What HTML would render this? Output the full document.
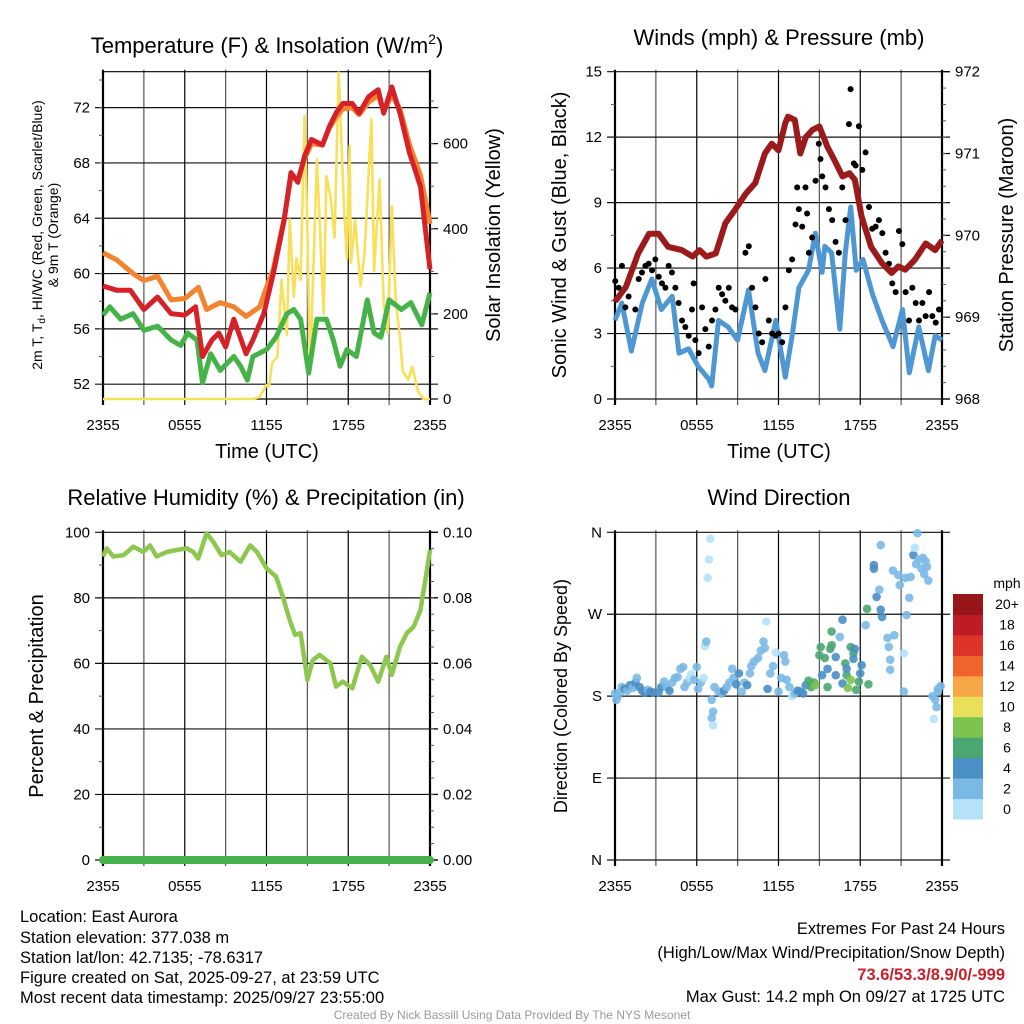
<!DOCTYPE html>
<html><head><meta charset="utf-8">
<style>
html,body{margin:0;padding:0;background:#fff}
svg{display:block;font-family:"Liberation Sans",Arial,sans-serif}
</style></head>
<body>
<svg id="c" width="1024" height="1024" viewBox="0 0 1024 1024" xmlns="http://www.w3.org/2000/svg">
<g id="footer" font-size="16.5" fill="#000">
<text x="20" y="922">Location: East Aurora</text>
<text x="20" y="943">Station elevation: 377.038 m</text>
<text x="20" y="963">Station lat/lon: 42.7135; -78.6317</text>
<text x="20" y="983">Figure created on Sat, 2025-09-27, at 23:59 UTC</text>
<text x="20" y="1003">Most recent data timestamp: 2025/09/27 23:55:00</text>
<text x="1005" y="934" text-anchor="end">Extremes For Past 24 Hours</text>
<text x="1005" y="958" text-anchor="end">(High/Low/Max Wind/Precipitation/Snow Depth)</text>
<text x="1005" y="980" text-anchor="end" fill="#c8202a" font-weight="bold">73.6/53.3/8.9/0/-999</text>
<text x="1005" y="1002" text-anchor="end">Max Gust: 14.2 mph On 09/27 at 1725 UTC</text>
<text x="512" y="1019" text-anchor="middle" font-size="12" fill="#999">Created By Nick Bassill Using Data Provided By The NYS Mesonet</text>
</g>
</svg>
<script>
// ---------- data (hours since 2355 UTC) ----------
const xTickLabels = ["2355","0555","1155","1755","2355"];
const redT_h = [0,1,2,3,4,5,6,6.8,7.3,8,8.5,9,9.6,10.5,11,11.8,12.5,13.3,13.8,14.3,14.8,15.3,16.1,16.6,17.1,17.6,18.3,18.8,19.5,20.2,20.6,21.2,21.8,22.5,23.3,24];
const redT_v = [59.1,58.8,58.8,57.4,58.3,57.1,57,57.6,54,55.2,55.7,54.7,56.7,54.2,55.2,57.1,60,63.9,67.3,66.6,68.5,69.7,69.3,70.6,71.6,72.3,72.3,71.6,72.8,73.3,71.6,73.5,71.6,68.7,66.3,60.3];
const orgT_h = [0,1,2.2,3,4,5,6,7,7.6,8.6,9.6,10.5,11.5,12,12.5,13.3,13.8,14.3,14.8,15.3,16.1,16.6,17.1,17.6,18.3,18.8,19.5,20.2,20.6,21.2,21.8,22.5,23.3,24];
const orgT_v = [61.5,61,60,59.5,59.8,58.1,58.2,59,57.4,57.9,57.6,56.9,57.6,59,60.3,64,67,66.8,68.3,69.4,69.3,70.5,71.3,71.9,72,71.5,72.4,72.9,71.7,72.9,71.9,69.3,67.1,63.6];
const grnT_h = [0,0.5,1.3,2.2,3,4,5,5.7,6.2,6.9,7.3,7.9,8.6,9.6,10.1,10.6,11,12,12.7,13.5,14,14.5,15.1,15.7,16.4,16.9,17.4,17.9,18.6,19.4,19.9,20.4,21,21.9,22.6,23.4,24];
const grnT_v = [57,57.6,56.7,57.1,55.9,56.2,55.2,54.8,55.7,55.2,52.1,54.2,53,54,53.3,52.3,54,54.5,55.4,57.1,57.4,56.7,52.8,56.7,56.7,55.2,53.3,54.5,54,58.1,55.7,55.4,58.1,57.4,57.9,56.3,58.6];
const sol_h = [0,11,11.5,12,12.2,12.4,12.8,13.1,13.5,13.7,14,14.2,14.5,14.8,15,15.2,15.7,16.2,16.4,16.7,17,17.3,17.7,17.9,18.1,18.2,18.5,18.9,19.2,19.7,19.9,20.3,20.6,20.9,21.2,21.5,21.8,22,22.4,22.7,23.1,23.5,24];
const sol_v = [0,0,5,33,30,84,100,280,150,422,240,330,280,665,400,68,563,200,524,475,380,767,440,330,595,320,420,265,343,657,300,516,225,155,453,225,145,65,45,76,20,0,0];
// winds & pressure
const pres_h = [0,0.8,1.7,2.5,3.2,3.9,4.9,5.7,6.2,6.7,7.4,8.1,8.8,9.6,10.3,11,11.5,12,12.5,12.7,13.2,13.6,14,14.5,15,15.6,16.1,16.7,17.2,17.6,18.1,18.8,19.6,20.3,20.8,21.3,22,22.8,23.5,24];
const pres_v = [969.19,969.37,969.78,970.02,970.02,969.86,969.82,969.74,969.82,969.74,969.78,970.15,970.31,970.51,970.64,971.0,971.12,971.04,971.37,971.45,971.41,971.0,971.2,971.29,971.33,971.08,970.92,970.72,970.76,970.68,970.23,969.86,969.66,969.54,969.62,969.58,969.7,969.9,969.82,969.94];
const wind_h = [0,0.5,1.2,2,2.7,3.4,4.2,4.7,5.4,6.1,6.9,7.1,7.6,8.3,9.0,9.8,10.5,11,11.8,12.5,13,13.5,14.2,14.7,15.2,15.4,15.9,16.5,16.9,17.3,17.7,18.2,18.9,19.6,20.4,21.1,21.6,22.3,23,23.5,24];
const wind_v = [3.6,4.4,2.2,4.4,5.5,4.1,4.7,2.1,2.3,1.5,0.9,0.6,3.6,3.3,2.7,5.0,2.1,1.3,3.6,1.0,2.9,5.1,5.9,7.6,5.8,7.0,6.7,3.2,6.7,8.8,5.9,6.4,4.8,3.6,2.4,4.1,1.2,3.3,1.3,2.9,2.7];
const gust_h = [0.02,0.27,0.51,0.76,1.0,1.49,1.74,1.98,2.23,2.47,2.72,2.96,3.21,3.45,3.7,3.94,4.18,4.43,4.67,4.92,5.16,5.41,5.65,5.77,5.9,6.14,6.39,6.63,6.88,7.12,7.37,7.61,7.86,8.1,8.35,8.59,8.84,9.57,9.82,10.06,10.31,10.55,10.8,11.04,11.29,11.53,11.78,12.02,12.27,12.51,12.76,13.0,13.25,13.37,13.49,13.74,13.98,14.1,14.23,14.47,14.72,14.96,15.08,15.21,15.45,15.7,15.94,16.19,16.43,16.68,16.92,17.17,17.29,17.53,17.66,17.9,18.15,18.39,18.64,18.88,19.13,19.37,19.62,19.86,20.11,20.35,20.6,20.84,21.09,21.33,21.58,21.82,22.07,22.31,22.56,22.8,23.05,23.29,23.54,23.78];
const gust_v = [5.4,5.1,6.1,4.2,4.7,4.1,5.5,5.8,6.1,6.2,5.9,6.4,5.6,5.3,5.1,6.1,5.8,5.1,4.4,3.6,3.3,2.9,4.1,5.3,2.7,2.1,4.2,3.2,2.4,3.6,4.1,5.1,4.8,4.5,5.1,4.2,4.1,6.7,7.0,5.1,4.2,3.0,2.6,5.5,3.6,3.0,2.9,3.0,2.6,4.2,5.9,6.4,8.0,9.7,8.7,7.9,9.7,8.5,6.7,7.4,10.0,11.7,11.0,10.2,9.7,8.7,8.2,7.2,6.7,9.7,8.2,12.6,14.2,10.8,10.7,12.5,10.5,11.3,8.8,7.8,7.9,8.2,7.6,6.7,6.2,5.3,4.9,7.7,7.1,4.9,3.6,5.1,4.4,3.6,4.4,3.8,4.9,3.8,3.5,4.1];
// RH & precip
const rh_h = [0,0.27,0.76,1.5,2.23,2.96,3.45,3.94,4.67,5.41,6.14,6.63,6.99,7.6,8.1,8.7,9.3,10.1,10.8,11.3,12.0,12.7,13.2,13.7,14.1,14.5,15.0,15.4,15.9,16.7,17.1,17.6,18.3,19.0,19.6,20.2,20.8,21.2,21.8,22.3,22.8,23.3,23.7,24];
const rh_v = [92.6,95.1,92.6,93,95.6,94,96,92.6,94,94.6,95.1,94,92,99.7,97,93,94,91,96,94,89,86.5,80.4,73.2,68.7,69.2,54.9,61,62.6,60,52.9,54.4,52.4,62,59.5,54.4,62,56.5,65.1,69.2,71.2,76.3,86.5,94.6];
const precip_h = [0,24];
const precip_v = [0,0];
// wind direction (hour, degrees, speed mph)
const dir_h = [0,0.1,0.2,0.4,0.5,0.7,0.9,1.1,1.3,1.5,1.6,1.8,2.0,2.2,2.4,2.6,2.8,3.2,3.4,3.6,3.8,4.0,4.2,4.4,4.6,4.8,5.0,5.1,5.3,5.5,5.6,5.8,6.0,6.1,6.3,6.5,6.6,6.7,6.8,6.9,7.0,7.1,7.2,7.1,7.2,7.3,7.6,7.8,8.0,8.2,8.4,8.6,8.7,8.9,9.1,9.3,9.5,9.7,9.9,10.0,10.2,10.5,10.7,10.9,11.0,11.1,11.2,11.4,11.6,11.8,12.0,12.2,12.4,12.5,12.6,12.8,13.0,13.2,13.4,13.6,13.8,14.0,14.2,14.4,14.6,14.7,15.0,15.1,15.2,15.4,15.6,15.6,15.8,15.9,15.9,16.2,16.2,16.5,16.7,16.7,16.9,17.0,17.0,17.1,17.3,17.3,17.5,17.5,17.6,17.7,17.9,18.0,18.1,18.4,18.5,18.6,19.0,19.0,19.2,19.4,19.5,19.5,19.6,20.0,20.1,20.2,20.2,20.5,20.4,20.8,20.9,21.3,21.6,21.4,21.2,21.2,21.7,21.9,22.0,22.1,22.2,22.3,22.5,22.6,22.7,22.8,22.9,23.0,23.3,23.5,23.6,23.4,23.7,23.9,23.7];
const dir_v = [183,176,180,185,190,188,186,192,189,195,200,190,186,184,187,185,184,184,190,196,190,186,195,200,201,210,212,190,195,200,204,198,212,188,195,200,235,240,310,330,353,176,163,156,148,190,185,183,186,190,195,210,200,193,205,185,195,192,205,213,218,222,230,240,233,262,188,205,213,228,185,200,225,218,198,190,180,183,186,185,183,192,197,190,195,192,225,234,203,222,210,190,232,236,251,223,203,245,194,264,216,203,210,189,198,234,227,221,232,187,196,205,214,258,276,193,324,320,289,297,275,346,267,244,234,220,209,247,318,313,302,310,288,269,227,185,311,335,343,325,359,330,320,332,314,328,322,307,180,176,168,155,185,191,188];
const dir_s = [3,3,3,3,3,4,3,4,3,4,2,4,4,4,3,4,4,4,4,2,3,4,3,2,2,2,2,2,2,1,1,2,3,2,2,1,1,2,1,1,1,2,2,2,1,2,3,3,4,2,2,3,2,4,4,3,3,4,3,2,2,2,2,3,2,1,4,2,2,1,3,2,3,2,2,3,1,3,4,4,4,4,6,6,6,8,6,6,4,6,4,6,7,6,6,4,4,3,4,4,6,6,4,8,8,6,6,4,4,6,6,4,4,3,6,6,4,5,4,3,4,2,4,3,3,3,3,3,3,3,3,3,3,3,1,3,3,4,1,2,2,2,2,2,2,2,2,3,3,2,3,1,2,3,3,3,2];
const cbarLabels = ["0","2","4","6","8","10","12","14","16","18","20+"];
const cbarColors = ["#b5e2f8","#7ab9e5","#4a8fc6","#4aa772","#7cc24c","#e6e05a","#f6a646","#f0632b","#de3328","#bd1c24","#961619"];

// ---------- helpers ----------
const NS="http://www.w3.org/2000/svg";
const svg=document.getElementById('c');
function el(tag,attrs,parent,text){const e=document.createElementNS(NS,tag);for(const k in attrs)e.setAttribute(k,attrs[k]);if(text!==undefined)e.textContent=text;(parent||svg).appendChild(e);return e;}
function lin(d0,d1,r0,r1){return v=>r0+(v-d0)/(d1-d0)*(r1-r0);}
function pathFrom(hs,vs,sx,sy){let d="";for(let i=0;i<hs.length;i++)d+=(i?"L":"M")+sx(hs[i]).toFixed(1)+","+sy(vs[i]).toFixed(1);return d;}

function frame(g,x0,x1,y0,y1,sx,showX){
  for(let h=0;h<=24;h+=3){const x=sx(h);
    const l=el('line',{x1:x,x2:x,y1:y0-2,y2:y1+6,stroke:(h%6==0?'#000':'#555'),'stroke-width':(h==0||h==24)?2.2:1.2},g);
    
    
  }
  if(showX){xTickLabels.forEach((t,i)=>{const tx=el('text',{x:sx(i*6),y:y1+31,'text-anchor':'middle','font-size':15},g,t);
    
    });}
}
function yAxis(g,x0,x1,ticks,labels,sy,minor,side,grid){
  ticks.forEach((v,i)=>{const y=sy(v);
    if(grid){const gl=el('line',{x1:x0-8,x2:x1+8,y1:y,y2:y,stroke:'#111','stroke-width':1.2},g);
      
      }
    else{const tk=el('line',{x1:side=='l'?x0-8:x1,x2:side=='l'?x0:x1+8,y1:y,y2:y,stroke:'#000','stroke-width':1.2},g);
      
      }
    const t=el('text',{x:side=='l'?x0-13:x1+13,y:y+5,'text-anchor':side=='l'?'end':'start','font-size':15},g,labels[i]);
    
    
  });
  minor.forEach(v=>{const y=sy(v);const m=el('line',{x1:side=='l'?x0-4:x1,x2:side=='l'?x0:x1+4,y1:y,y2:y,stroke:'#555','stroke-width':1},g);
    
    });
}
function rng(a,b,s){const r=[];for(let v=a;v<=b+1e-9;v+=s)r.push(+v.toFixed(4));return r;}
function vtext(g,x,y,size,txt,name){const t=el('text',{x:x,y:y,'font-size':size,'text-anchor':'middle',transform:`rotate(-90 ${x} ${y})`},g,txt);
  
  return t;}

// ---------- Panel 1: temperature ----------
(function(){
  const g=el('g',{});
  
  
  const x0=103,x1=430,y0=71.7,y1=399;
  const sx=lin(0,24,x0,x1), sy=lin(50.93,74.6,y1,y0), sr=lin(0,769,y1,y0);
  frame(g,x0,x1,y0,y1,sx,true);
  yAxis(g,x0,x1,[52,56,60,64,68,72],["52","56","60","64","68","72"],sy,rng(54,74,2),'l',true);
  yAxis(g,x0,x1,[0,200,400,600],["0","200","400","600"],sr,rng(100,700,100),'r',false);
  el('line',{x1:x0,x2:x1,y1:y0,y2:y0,stroke:'#000','stroke-width':1.2},g);
  el('line',{x1:x0,x2:x1,y1:y1,y2:y1,stroke:'#000','stroke-width':1.2},g);
  const s1=el('path',{d:pathFrom(sol_h,sol_v,sx,sr),fill:'none',stroke:'#f8e05a','stroke-width':2.6,'stroke-linejoin':'round'},g);
   
  const o=el('path',{d:pathFrom(orgT_h,orgT_v,sx,sy),fill:'none',stroke:'#f48330','stroke-width':5,'stroke-linejoin':'round'},g);
   
  const gr=el('path',{d:pathFrom(grnT_h,grnT_v,sx,sy),fill:'none',stroke:'#45b347','stroke-width':5,'stroke-linejoin':'round'},g);
   
  const r=el('path',{d:pathFrom(redT_h,redT_v,sx,sy),fill:'none',stroke:'#d42228','stroke-width':5,'stroke-linejoin':'round'},g);
   
  const t=el('text',{x:267,y:53,'text-anchor':'middle','font-size':22},g);
   
  t.innerHTML='Temperature (F) &amp; Insolation (W/m<tspan dy="-9" font-size="14">2</tspan><tspan dy="9">)</tspan>';
  const yt=el('text',{'font-size':14,'text-anchor':'middle',transform:'translate(42 235) rotate(-90)'},g);
   
  yt.innerHTML='<tspan x="0" y="0">2m T, T<tspan font-size="10" dy="3">d</tspan><tspan dy="-3">, HI/WC (Red, Green, Scarlet/Blue)</tspan></tspan><tspan x="0" y="16">&amp; 9m T (Orange)</tspan>';
  vtext(g,500,235,20,'Solar Insolation (Yellow)','insolation-y-title');
  const xt=el('text',{x:267,y:458,'text-anchor':'middle','font-size':20},g,'Time (UTC)');
   
})();

// ---------- Panel 2: winds ----------
(function(){
  const g=el('g',{});
  
  
  const x0=615,x1=942,y0=71.7,y1=399;
  const sx=lin(0,24,x0,x1), sy=lin(0,15,y1,y0), sp=lin(968,972,y1,y0);
  frame(g,x0,x1,y0,y1,sx,true);
  yAxis(g,x0,x1,[0,3,6,9,12,15],["0","3","6","9","12","15"],sy,rng(1.5,13.5,3),'l',true);
  yAxis(g,x0,x1,[968,969,970,971,972],["968","969","970","971","972"],sp,rng(968.2,971.8,0.2),'r',false);
  const b=el('path',{d:pathFrom(wind_h,wind_v,sx,sy),fill:'none',stroke:'#4f97d3','stroke-width':5,'stroke-linejoin':'round'},g);
   
  gust_h.forEach((h,i)=>{const c=el('circle',{cx:sx(h),cy:sy(gust_v[i]),r:3,fill:'#000'},g);
    
    });
  const p=el('path',{d:pathFrom(pres_h,pres_v,sx,sp),fill:'none',stroke:'#9b1a1c','stroke-width':6,'stroke-linejoin':'round'},g);
   
  const t=el('text',{x:779,y:45,'text-anchor':'middle','font-size':22},g,'Winds (mph) & Pressure (mb)');
   
  vtext(g,566,235,20,'Sonic Wind & Gust (Blue, Black)','wind-y-title');
  vtext(g,1013,235,20,'Station Pressure (Maroon)','pressure-y-title');
  const xt=el('text',{x:779,y:458,'text-anchor':'middle','font-size':20},g,'Time (UTC)');
   
})();

// ---------- Panel 3: RH ----------
(function(){
  const g=el('g',{});
  
  
  const x0=103,x1=430,y0=532.3,y1=860;
  const sx=lin(0,24,x0,x1), sy=lin(0,100,y1,y0), sq=lin(0,0.1,y1,y0);
  frame(g,x0,x1,y0,y1,sx,true);
  yAxis(g,x0,x1,[0,20,40,60,80,100],["0","20","40","60","80","100"],sy,rng(10,90,20),'l',true);
  yAxis(g,x0,x1,[0,0.02,0.04,0.06,0.08,0.1],["0.00","0.02","0.04","0.06","0.08","0.10"],sq,rng(0.005,0.095,0.005),'r',false);
  const r=el('path',{d:pathFrom(rh_h,rh_v,sx,sy),fill:'none',stroke:'#8dc74f','stroke-width':4.5,'stroke-linejoin':'round'},g);
   
  const p=el('path',{d:pathFrom(precip_h,precip_v,sx,sq),fill:'none',stroke:'#46b04a','stroke-width':8,'stroke-linecap':'round'},g);
   
  const t=el('text',{x:266,y:505,'text-anchor':'middle','font-size':22},g,'Relative Humidity (%) & Precipitation (in)');
   
  vtext(g,43,696,20,'Percent & Precipitation','humidity-y-title');
})();

// ---------- Panel 4: wind direction ----------
(function(){
  const g=el('g',{});
  
  
  const x0=615,x1=942,y0=532.3,y1=860;
  const sx=lin(0,24,x0,x1), sy=lin(0,360,y1,y0);
  frame(g,x0,x1,y0,y1,sx,true);
  yAxis(g,x0,x1,[0,90,180,270,360],["N","E","S","W","N"],sy,[],'l',true);
  dir_h.forEach((h,i)=>{const bin=Math.min(10,Math.floor(dir_s[i]/2));
    const c=el('circle',{cx:sx(h),cy:sy(dir_v[i]),r:4.3,fill:cbarColors[bin],'fill-opacity':0.9},g);
    
    });
  const t=el('text',{x:779,y:505,'text-anchor':'middle','font-size':22},g,'Wind Direction');
   
  vtext(g,567,696,18,'Direction (Colored By Speed)','direction-y-title');
  const cb=el('g',{},g);
  
  
  const cy0=594,ch=225/11;
  cbarColors.forEach((col,i)=>{const y=cy0+(10-i)*ch;
    const r=el('rect',{x:953,y:y,width:30,height:ch+0.5,fill:col},cb);
    
    
    const tx=el('text',{x:1007,y:y+ch/2+5,'text-anchor':'middle','font-size':14},cb,cbarLabels[i]);
    
    });
  const u=el('text',{x:1007,y:588,'text-anchor':'middle','font-size':14},cb,'mph');
   
})();
</script>
</body></html>
